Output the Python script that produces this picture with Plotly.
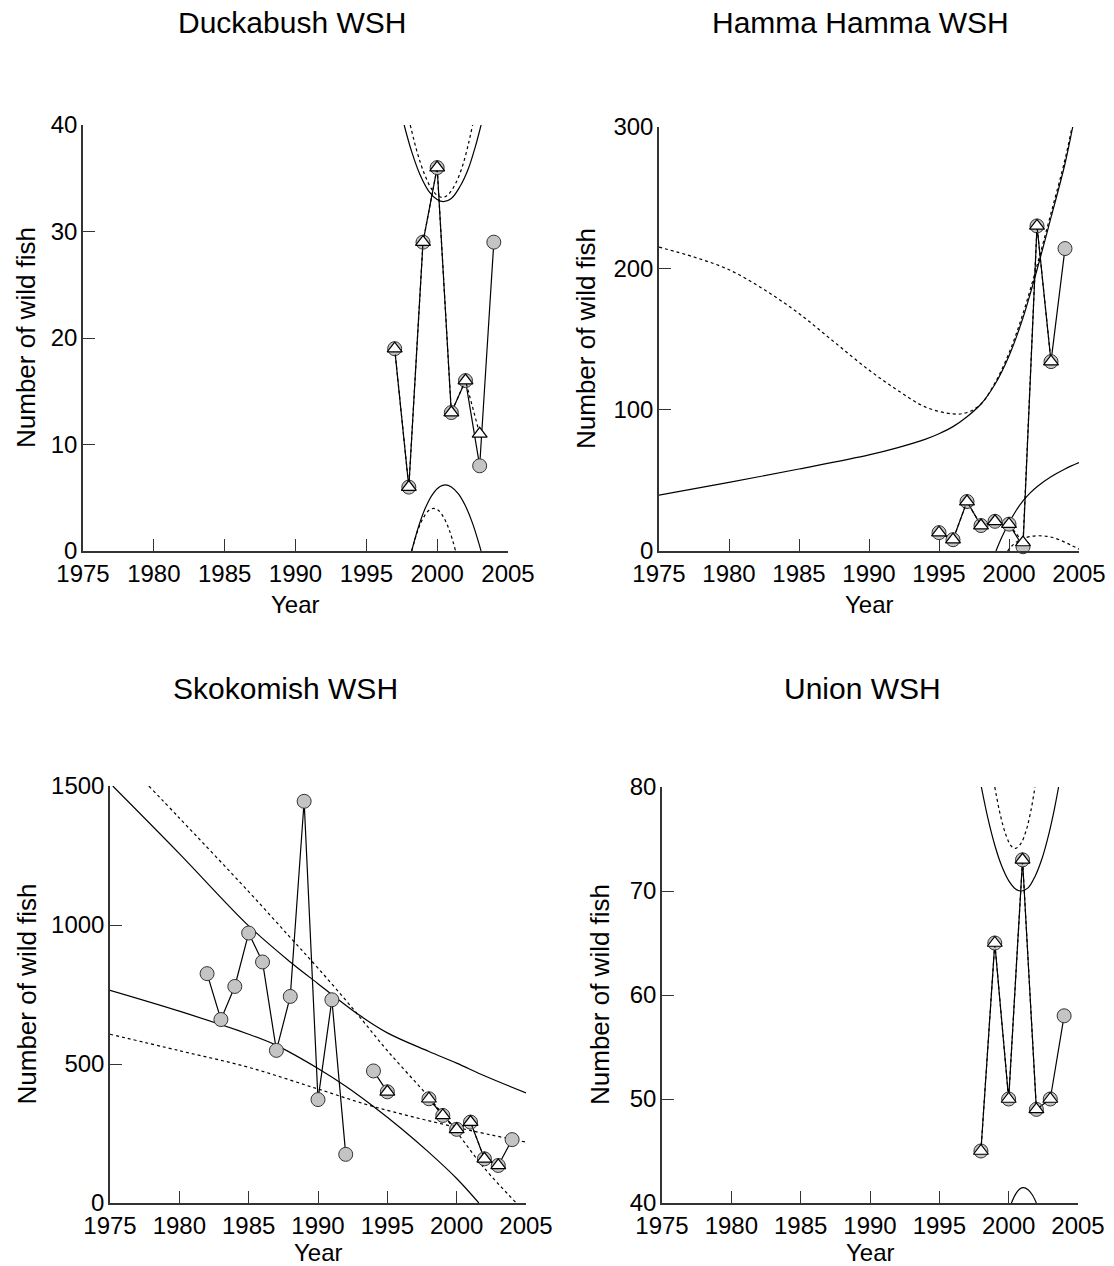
import plotly.graph_objects as go

W, H = 1114, 1266
FONT = "Arial, Liberation Sans, sans-serif"

# ---------------- Data ----------------
# Duckabush WSH
duck_years = [1997, 1998, 1999, 2000, 2001, 2002, 2003, 2004]
duck_obs = [19, 6, 29, 36, 13, 16, 8, 29]
duck_tri_years = [1997, 1998, 1999, 2000, 2001, 2002, 2003]
duck_tri = [19, 6, 29, 36, 13, 16, 11]
duck_up_solid_x = [1997.67, 1998.2, 1998.8, 1999.4, 2000.0, 2000.45, 2001.0, 2001.6, 2002.2, 2002.7, 2003.1]
duck_up_solid_y = [40, 37.5, 35.3, 33.8, 33.0, 32.8, 33.1, 34.2, 35.9, 38.0, 40]
duck_up_dot_x = [1998.1, 1998.6, 1999.1, 1999.6, 2000.0, 2000.4, 2000.8, 2001.3, 2001.8, 2002.2, 2002.5]
duck_up_dot_y = [40, 37.4, 35.4, 34.0, 33.4, 33.2, 33.5, 34.5, 36.2, 38.2, 40]
duck_lo_solid_x = [1998.2, 1998.7, 1999.2, 1999.7, 2000.2, 2000.57, 2001.0, 2001.5, 2002.0, 2002.5, 2003.1]
duck_lo_solid_y = [0, 2.35, 4.14, 5.37, 6.05, 6.2, 6.02, 5.36, 4.22, 2.59, 0]
duck_lo_dot_x = [1998.2, 1998.6, 1999.0, 1999.4, 1999.75, 2000.1, 2000.5, 2000.9, 2001.3]
duck_lo_dot_y = [0, 1.8, 3.06, 3.8, 4.0, 3.8, 3.06, 1.8, 0]

# Hamma Hamma WSH
hamma_years = [1995, 1996, 1997, 1998, 1999, 2000, 2001, 2002, 2003, 2004]
hamma_obs = [13, 8, 35, 18, 21, 19, 3, 230, 134, 214]
hamma_tri_years = [1995, 1996, 1997, 1998, 1999, 2000, 2001, 2002, 2003]
hamma_tri = [13, 8, 35, 18, 21, 19, 6, 230, 134]
hamma_up_solid_x = [1975, 1980, 1985, 1990, 1992, 1994, 1995, 1996, 1997, 1998, 1999, 2000, 2001, 2002, 2003, 2004, 2004.55]
hamma_up_solid_y = [39.5, 48.5, 58, 68, 73, 79, 83, 88, 95, 104, 118, 138, 165, 199, 236, 274, 300]
hamma_up_dot_x = [1975, 1977.5, 1980, 1982.5, 1985, 1987.5, 1990, 1992, 1994, 1996, 1997, 1998, 1999, 2000, 2001, 2002, 2003, 2004, 2004.5]
hamma_up_dot_y = [215, 208, 199, 185, 168, 148, 128, 114, 102, 97, 98, 104, 119, 140, 168, 202, 239, 277, 300]
hamma_lo_solid_x = [1999.07, 1999.5, 2000.0, 2000.5, 2001.0, 2001.5, 2002.0, 2003.0, 2004.0, 2005.0]
hamma_lo_solid_y = [0, 10, 20, 28.5, 35.5, 41, 45.5, 52.5, 58, 62.5]
hamma_lo_dot_x = [1999.9, 2000.2, 2000.6, 2001.0, 2001.5, 2002.1, 2002.7, 2003.3, 2004.0, 2004.5, 2005.0]
hamma_lo_dot_y = [0, 3.5, 6.8, 8.8, 10.2, 10.8, 10.4, 9.0, 6.2, 3.8, 1.3]

# Skokomish WSH
skok_years = [1982, 1983, 1984, 1985, 1986, 1987, 1988, 1989, 1990, 1991, 1992, 1993,
              1994, 1995, 1996, 1997, 1998, 1999, 2000, 2001, 2002, 2003, 2004]
skok_obs = [825, 660, 779, 971, 867, 549, 743, 1445, 372, 731, 175, None,
            475, 400, None, None, 375, 315, 265, 291, 159, 135, 228]
skok_tri_years = [1995, 1996, 1997, 1998, 1999, 2000, 2001, 2002, 2003]
skok_tri = [400, None, None, 375, 315, 265, 291, 159, 135]
skok_a_x = [1975.2, 1980, 1985, 1988, 1990, 1993, 1995, 1998, 2000, 2002, 2005]
skok_a_y = [1500, 1257, 997, 867, 789, 675, 612, 545, 503, 458, 396]
skok_b_x = [1975, 1980, 1985, 1987, 1990, 1992, 1994, 1996, 1998, 2000, 2001.6]
skok_b_y = [765, 690, 607, 567, 484, 420, 347, 268, 182, 88, 0]
skok_c_x = [1977.8, 1980, 1985, 1988, 1990, 1992.5, 1995, 1998, 2000, 2002, 2004.3]
skok_c_y = [1500, 1385, 1120, 955, 845, 700, 548, 380, 255, 125, 0]
skok_d_x = [1975, 1980, 1985, 1990, 1994, 2000, 2005]
skok_d_y = [607, 548, 488, 410, 347, 272, 219]

# Union WSH
union_years = [1998, 1999, 2000, 2001, 2002, 2003, 2004]
union_obs = [45, 65, 50, 73, 49, 50, 58]
union_tri_years = [1998, 1999, 2000, 2001, 2002, 2003]
union_tri = [45, 65, 50, 73, 49, 50]
union_up_solid_x = [1998.03, 1998.5, 1999.0, 1999.5, 2000.0, 2000.5, 2000.9, 2001.4, 2001.9, 2002.4, 2002.9, 2003.3, 2003.6]
union_up_solid_y = [80, 77.0, 74.4, 72.4, 71.0, 70.2, 70.0, 70.3, 71.4, 73.1, 75.5, 77.9, 80]
union_up_dot_x = [1999.0, 1999.4, 1999.8, 2000.2, 2000.5, 2000.9, 2001.3, 2001.6, 2001.9]
union_up_dot_y = [80, 77.3, 75.4, 74.3, 74.1, 74.6, 76.0, 77.7, 80]
union_lo_solid_x = [2000.2, 2000.5, 2000.8, 2001.06, 2001.4, 2001.7, 2002.0]
union_lo_solid_y = [40, 40.85, 41.34, 41.47, 41.28, 40.79, 40]

titles = ["Duckabush WSH", "Hamma Hamma WSH", "Skokomish WSH", "Union WSH"]
x_ticks = [1975, 1980, 1985, 1990, 1995, 2000, 2005]
y_ticks = [[0, 10, 20, 30, 40], [0, 100, 200, 300], [0, 500, 1000, 1500], [40, 50, 60, 70, 80]]
y_ranges = [[0, 40], [0, 300], [0, 1500], [40, 80]]

panels = [
    dict(years=duck_years, obs=duck_obs, ty=duck_tri_years, tv=duck_tri,
         solid=[(duck_up_solid_x, duck_up_solid_y), (duck_lo_solid_x, duck_lo_solid_y)],
         dot=[(duck_up_dot_x, duck_up_dot_y), (duck_lo_dot_x, duck_lo_dot_y)]),
    dict(years=hamma_years, obs=hamma_obs, ty=hamma_tri_years, tv=hamma_tri,
         solid=[(hamma_up_solid_x, hamma_up_solid_y), (hamma_lo_solid_x, hamma_lo_solid_y)],
         dot=[(hamma_up_dot_x, hamma_up_dot_y), (hamma_lo_dot_x, hamma_lo_dot_y)]),
    dict(years=skok_years, obs=skok_obs, ty=skok_tri_years, tv=skok_tri,
         solid=[(skok_a_x, skok_a_y), (skok_b_x, skok_b_y)],
         dot=[(skok_c_x, skok_c_y), (skok_d_x, skok_d_y)]),
    dict(years=union_years, obs=union_obs, ty=union_tri_years, tv=union_tri,
         solid=[(union_up_solid_x, union_up_solid_y), (union_lo_solid_x, union_lo_solid_y)],
         dot=[(union_up_dot_x, union_up_dot_y)]),
]

# plot-area pixel boxes: (left, right, top, bottom)
boxes = [(83, 508, 125, 551), (659, 1079, 127, 551), (110, 526, 786, 1203), (662, 1078, 787, 1203)]
title_pos = [(292, 22), (860, 22), (285, 688), (862, 688)]
ytitle_x = [26, 586, 26, 600]
xtitle_y = [604, 604, 1252, 1252]

fig = go.Figure()
layout = dict(width=W, height=H, margin=dict(l=0, r=0, t=0, b=0, pad=0, autoexpand=False),
              paper_bgcolor="white", plot_bgcolor="white", showlegend=False,
              font=dict(family=FONT, color="black"))
annotations = []

for i, p in enumerate(panels):
    n = "" if i == 0 else str(i + 1)
    xa, ya = "x" + n, "y" + n
    l, r, t, b = boxes[i]
    common = dict(ticks="inside", ticklen=12, tickwidth=1.2, tickcolor="#333",
                  showline=True, linecolor="#333", linewidth=1.5, showgrid=False,
                  zeroline=False, automargin=False,
                  tickfont=dict(size=24, family=FONT, color="black"))
    layout["xaxis" + n] = dict(domain=[l / W, r / W], range=[1975, 2005], anchor=ya,
                               tickvals=x_ticks, ticklabelstandoff=0, **common)
    layout["yaxis" + n] = dict(domain=[1 - b / H, 1 - t / H], range=y_ranges[i], anchor=xa,
                               tickvals=y_ticks[i], ticklabelstandoff=-1, **common)
    for sx, sy in p["solid"]:
        fig.add_trace(go.Scatter(x=sx, y=sy, mode="lines", xaxis=xa, yaxis=ya,
                                 line=dict(color="black", width=1.2, shape="spline")))
    for sx, sy in p["dot"]:
        fig.add_trace(go.Scatter(x=sx, y=sy, mode="lines", xaxis=xa, yaxis=ya,
                                 line=dict(color="black", width=1.2, dash="dot", shape="spline")))
    fig.add_trace(go.Scatter(x=p["years"], y=p["obs"], mode="lines+markers", xaxis=xa, yaxis=ya,
                             connectgaps=False, cliponaxis=False,
                             line=dict(color="black", width=1.2),
                             marker=dict(symbol="circle", size=14, color="#c4c4c4",
                                         line=dict(color="#333", width=1))))
    fig.add_trace(go.Scatter(x=p["ty"], y=p["tv"], mode="lines+markers", xaxis=xa, yaxis=ya,
                             connectgaps=False, cliponaxis=False,
                             line=dict(color="black", width=1.2, dash="dot"),
                             marker=dict(symbol="triangle-up", size=13, color="white",
                                         line=dict(color="black", width=1.2))))
    tx, ty = title_pos[i]
    annotations.append(dict(text=titles[i], x=tx / W, y=1 - ty / H, xref="paper", yref="paper",
                            showarrow=False, xanchor="center", yanchor="middle",
                            font=dict(size=30, family=FONT, color="black")))
    annotations.append(dict(text="Number of wild fish", x=ytitle_x[i] / W, y=1 - ((t + b) / 2) / H,
                            xref="paper", yref="paper", showarrow=False, textangle=-90,
                            xanchor="center", yanchor="middle",
                            font=dict(size=26, family=FONT, color="black")))
    annotations.append(dict(text="Year", x=((l + r) / 2) / W, y=1 - xtitle_y[i] / H,
                            xref="paper", yref="paper", showarrow=False,
                            xanchor="center", yanchor="middle",
                            font=dict(size=24, family=FONT, color="black")))

layout["annotations"] = annotations
fig.update_layout(**layout)
fig.write_html("out.html")
